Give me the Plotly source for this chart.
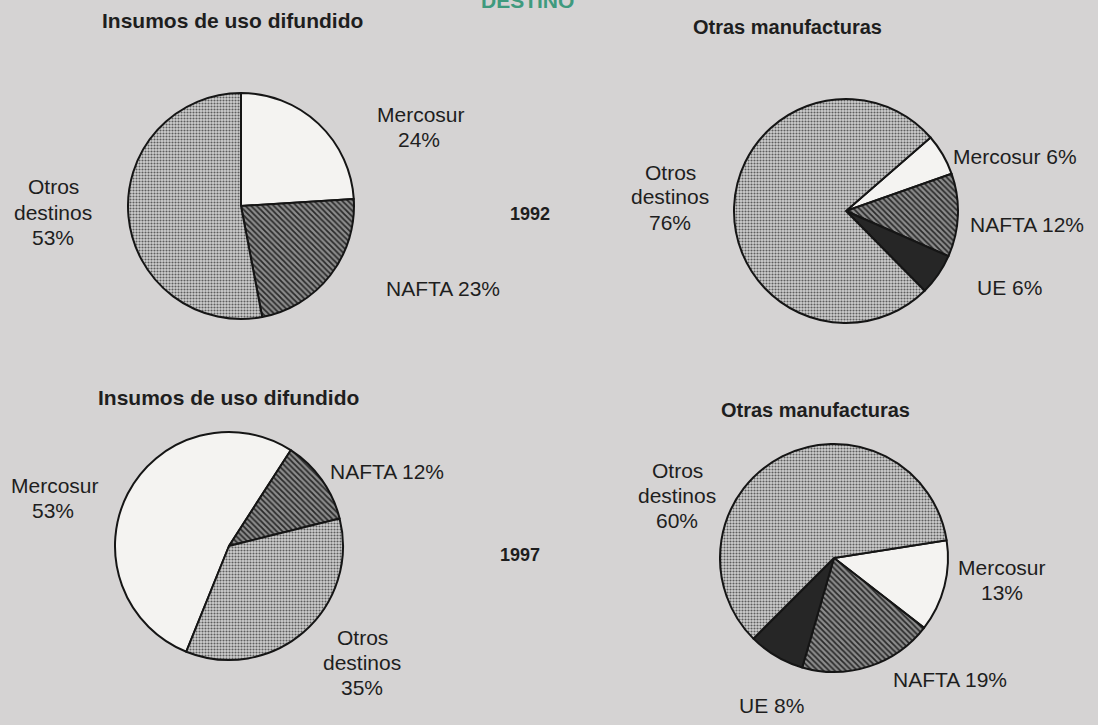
import plotly.graph_objects as go

# ---- data ----
labels_a = ["Mercosur", "NAFTA", "Otros destinos"]
ins_1992 = [24, 23, 53]
ins_1997 = [53, 12, 35]
labels_b = ["Mercosur", "NAFTA", "UE", "Otros destinos"]
otr_1992 = [6, 12, 6, 76]
otr_1997 = [13, 19, 8, 60]
panel_titles = ["Insumos de uso difundido", "Otras manufacturas",
                "Insumos de uso difundido", "Otras manufacturas"]
years = ["1992", "1997"]
main_title = "DESTINO"

W, H = 1098, 725
BG = "#d5d3d3"
FONT = "Liberation Sans, Arial, Helvetica, sans-serif"
TXT = "#1e1e1e"

styles = {
    "Mercosur": dict(color="#f4f3f1", pat=None),
    "NAFTA": dict(color="#7a7a7a", pat=dict(shape="\\", bgcolor="#8c8c8c", fgcolor="#2a2a2a", size=4, solidity=0.45)),
    "UE": dict(color="#262626", pat=None),
    "Otros destinos": dict(color="#b4b4b4", pat=dict(shape=".", bgcolor="#cfcfcf", fgcolor="#5e5e5e", size=3, solidity=0.4)),
}


def dom(cx, cy, r):
    return dict(x=[(cx - r) / W, (cx + r) / W], y=[1 - (cy + r) / H, 1 - (cy - r) / H])


def pie(labels, values, cx, cy, r, rot):
    colors = [styles[l]["color"] for l in labels]
    pats = [styles[l]["pat"] or {} for l in labels]
    return go.Pie(
        labels=labels, values=values, sort=False, direction="clockwise",
        rotation=rot, textinfo="none", hoverinfo="label+percent",
        domain=dom(cx, cy, r), showlegend=False,
        marker=dict(
            colors=colors,
            line=dict(color="#151515", width=2),
            pattern=dict(
                shape=[p.get("shape", "") for p in pats],
                bgcolor=[p.get("bgcolor", c) for p, c in zip(pats, colors)],
                fgcolor=[p.get("fgcolor", c) for p, c in zip(pats, colors)],
                size=[p.get("size", 8) for p in pats],
                solidity=[p.get("solidity", 0.3) for p in pats],
                fillmode="replace",
            ),
        ),
    )


fig = go.Figure()
fig.add_trace(pie(labels_a, ins_1992, 241, 206, 113, 0))
fig.add_trace(pie(labels_b, otr_1992, 846, 211, 112, 49))
fig.add_trace(pie(labels_a, ins_1997, 229, 546, 114, 202))
fig.add_trace(pie(labels_b, otr_1997, 834, 558, 114, 81))

ann = []


def txt(s, x, y, size=21, bold=False, color=TXT):
    ann.append(dict(
        text=(f"<b>{s}</b>" if bold else s), x=x / W, y=1 - y / H,
        xref="paper", yref="paper", xanchor="center", yanchor="middle",
        showarrow=False, font=dict(family=FONT, size=size, color=color),
    ))


def one(name, v, x, y):
    txt(f"{name} {v}%", x, y)


def stack(name, v, xs, ys):
    lines = name.split(" ") + [f"{v}%"]
    for ln, xx, yy in zip(lines, xs, ys):
        txt(ln, xx, yy)


# main title (partially cut at top edge, as in the scan)
txt(main_title, 527, 0, size=21, bold=True, color="#3f9a7e")
# panel titles
txt(panel_titles[0], 232, 20, size=21, bold=True)
txt(panel_titles[1], 787, 27, size=20, bold=True)
txt(panel_titles[2], 228, 397, size=21, bold=True)
txt(panel_titles[3], 815, 410, size=20, bold=True)
# years
txt(years[0], 530, 214, size=18, bold=True)
txt(years[1], 520, 555, size=18, bold=True)

# 1992 insumos
stack(labels_a[0], ins_1992[0], [421, 419], [115, 140])
stack(labels_a[2], ins_1992[2], [53, 53, 53], [187, 212, 237])
one(labels_a[1], ins_1992[1], 443, 288)
# 1992 otras
stack(labels_b[3], otr_1992[3], [670, 670, 670], [172, 197, 222])
one(labels_b[0], otr_1992[0], 1015, 157)
one(labels_b[1], otr_1992[1], 1027, 224)
one(labels_b[2], otr_1992[2], 1010, 287)
# 1997 insumos
stack(labels_a[0], ins_1997[0], [55, 53], [485, 510])
one(labels_a[1], ins_1997[1], 387, 472)
stack(labels_a[2], ins_1997[2], [362, 362, 362], [637, 662, 687])
# 1997 otras
stack(labels_b[3], otr_1997[3], [677, 677, 677], [470, 495, 520])
stack(labels_b[0], otr_1997[0], [1002, 1002], [567, 592])
one(labels_b[1], otr_1997[1], 950, 679)
one(labels_b[2], otr_1997[2], 771, 705)

fig.update_layout(
    width=W, height=H, margin=dict(l=0, r=0, t=0, b=0),
    paper_bgcolor=BG, plot_bgcolor=BG, annotations=ann,
    font=dict(family=FONT, size=21, color=TXT),
)

fig.write_html(
    "out.html",
    config={"displayModeBar": False},
    post_script="document.body.style.margin='0';document.body.style.overflow='hidden';",
)
